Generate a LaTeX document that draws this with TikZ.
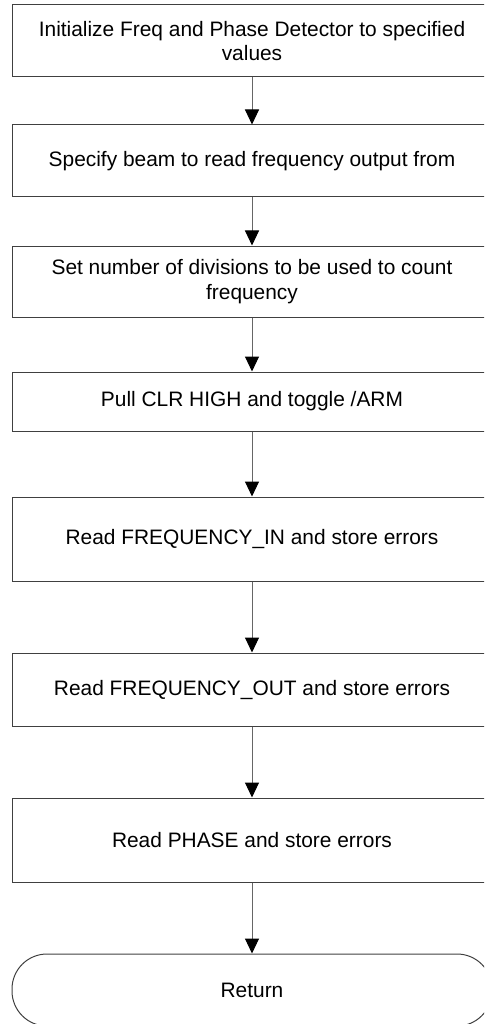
\documentclass[tikz,border=0pt]{standalone}
\usepackage{fontspec}
\setmainfont{Liberation Sans}
\usetikzlibrary{arrows.meta}
\begin{document}
\begin{tikzpicture}[x=1pt,y=-1pt,
  stepbox/.style={draw=black!75, line width=1pt, minimum width=480pt,
    inner sep=0pt, align=center, font=\fontsize{20.9}{24.5}\selectfont},
  endbox/.style={stepbox, rounded corners=35pt},
  flow/.style={draw=black!60, line width=1pt,
    -{Triangle[width=14pt,length=15pt,color=black]}}]
  \useasboundingbox (0,0) rectangle (484,1024);
  \clip (0,0) rectangle (484,1024);
  \node[stepbox, minimum height=72pt] (init) at (252,41)
    {Initialize Freq and Phase Detector to specified\\values};
  \node[stepbox, minimum height=72pt] (beam) at (252,161)
    {Specify beam to read frequency output from};
  \node[stepbox, minimum height=71pt] (div) at (252,281.5)
    {Set number of divisions to be used to count\\frequency};
  \node[stepbox, minimum height=59pt] (clr) at (252,401.5)
    {Pull CLR HIGH and toggle /ARM};
  \node[stepbox, minimum height=84pt] (fin) at (252,539)
    {Read FREQUENCY\_IN and store errors};
  \node[stepbox, minimum height=73pt] (fout) at (252,689.5)
    {Read FREQUENCY\_OUT and store errors};
  \node[stepbox, minimum height=84pt] (phase) at (252,840)
    {Read PHASE and store errors};
  \node[endbox, minimum height=72pt] (ret) at (252,990) {Return};
  \draw[flow] (init) -- (beam);
  \draw[flow] (beam) -- (div);
  \draw[flow] (div) -- (clr);
  \draw[flow] (clr) -- (fin);
  \draw[flow] (fin) -- (fout);
  \draw[flow] (fout) -- (phase);
  \draw[flow] (phase) -- (ret);
\end{tikzpicture}
\end{document}
